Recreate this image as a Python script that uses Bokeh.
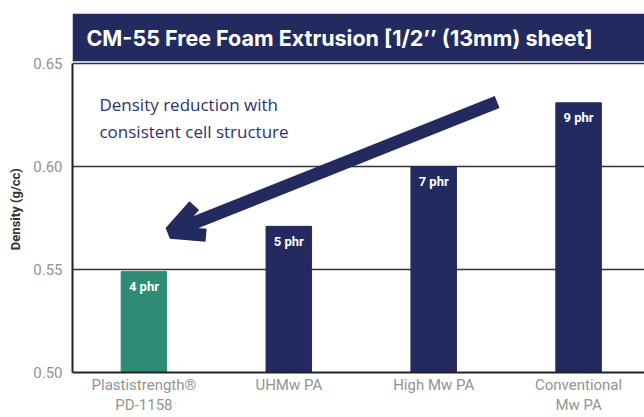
from bokeh.plotting import figure
from bokeh.models import (Range1d, FixedTicker, BoxAnnotation, Arrow, OpenHead, Label,
                          ColumnDataSource, CustomJSTickFormatter)
from bokeh.core.properties import value
from bokeh.embed import file_html
from bokeh.resources import INLINE

categories = ["Plastistrength®\nPD-1158", "UHMw PA", "High Mw PA", "Conventional\nMw PA"]
density = [0.549, 0.571, 0.600, 0.631]
phr_labels = ["4 phr", "5 phr", "7 phr", "9 phr"]
bar_colors = ["#2f8c74", "#232a5f", "#232a5f", "#232a5f"]
y_ticks = [0.50, 0.55, 0.60, 0.65]
y_base = 0.50

NAVY = "#232a5f"
xs = list(range(len(categories)))
src = ColumnDataSource(dict(x=xs, top=density, lab=phr_labels, color=bar_colors))

p = figure(width=644, height=417, x_range=Range1d(-0.493, 3.455), y_range=Range1d(y_base, 0.6744),
           output_backend="svg", toolbar_location=None,
           min_border_left=72, min_border_right=0, min_border_top=13, min_border_bottom=0)
p.outline_line_color = None
p.background_fill_color = "white"

p.vbar(x="x", top="top", bottom=y_base, width=0.314, color="color", source=src)
p.text(x="x", y="top", text="lab", source=src, text_color="white", text_font=value("Roboto"),
       text_font_style="bold", text_font_size="13px", text_align="center", text_baseline="middle",
       y_offset=15)

# title band
p.add_layout(BoxAnnotation(bottom=0.6512, fill_color=NAVY, fill_alpha=1.0, line_color=None))
p.add_layout(Label(x=-0.397, y=0.6626, text="CM-55 Free Foam Extrusion [1/2’’ (13mm) sheet]",
                   text_color="white", text_font="Inter", text_font_style="bold",
                   text_font_size="21.5px", text_baseline="middle"))

# annotation
p.add_layout(Label(x=-0.307, y=0.6357, text="Density reduction with\nconsistent cell structure",
                   text_color="#2b3270", text_font="Open Sans", text_font_size="17px",
                   text_baseline="top", text_line_height=1.18))
p.add_layout(Arrow(x_start=2.438, y_start=0.6314, x_end=0.183, y_end=0.5681,
                   line_color=NAVY, line_width=13,
                   end=OpenHead(size=32, line_width=13, line_color=NAVY)))

# axes
p.yaxis.ticker = FixedTicker(ticks=y_ticks)
p.yaxis.bounds = (0.50, 0.65)
p.yaxis.formatter = CustomJSTickFormatter(code="return tick.toFixed(2);")
p.yaxis.major_tick_line_color = None
p.yaxis.minor_tick_line_color = None
p.yaxis.major_tick_out = 0
p.yaxis.major_tick_in = 0
p.yaxis.minor_tick_out = 0
p.yaxis.minor_tick_in = 0
p.yaxis.axis_line_color = "#222222"
p.yaxis.axis_line_width = 2
p.yaxis.major_label_text_color = "#939393"
p.yaxis.major_label_text_font = "Roboto"
p.yaxis.major_label_text_font_size = "15px"
p.yaxis.major_label_standoff = 10
p.yaxis.axis_label = "Density (g/cc)" + "\u00a0" * 10
p.yaxis.axis_label_text_font = "Roboto"
p.yaxis.axis_label_text_font_style = "bold"
p.yaxis.axis_label_text_font_size = "13px"
p.yaxis.axis_label_text_color = "#333333"
p.yaxis.axis_label_standoff = 7

p.xaxis.ticker = FixedTicker(ticks=xs)
p.xaxis.major_label_overrides = {i: c for i, c in zip(xs, categories)}
p.xaxis.major_tick_line_color = None
p.xaxis.minor_tick_line_color = None
p.xaxis.major_tick_out = 0
p.xaxis.major_tick_in = 0
p.xaxis.minor_tick_out = 0
p.xaxis.minor_tick_in = 0
p.xaxis.axis_line_color = "#222222"
p.xaxis.axis_line_width = 2
p.xaxis.major_label_text_color = "#939393"
p.xaxis.major_label_text_font = "Roboto"
p.xaxis.major_label_text_font_size = "15px"
p.xaxis.major_label_text_line_height = 1.15
p.xaxis.major_label_standoff = 3

p.xgrid.grid_line_color = None
p.ygrid.ticker = FixedTicker(ticks=[0.55, 0.60, 0.65])
p.ygrid.grid_line_color = "#333333"
p.ygrid.grid_line_width = 1.5

open("out.html", "w").write(file_html(p, INLINE))
